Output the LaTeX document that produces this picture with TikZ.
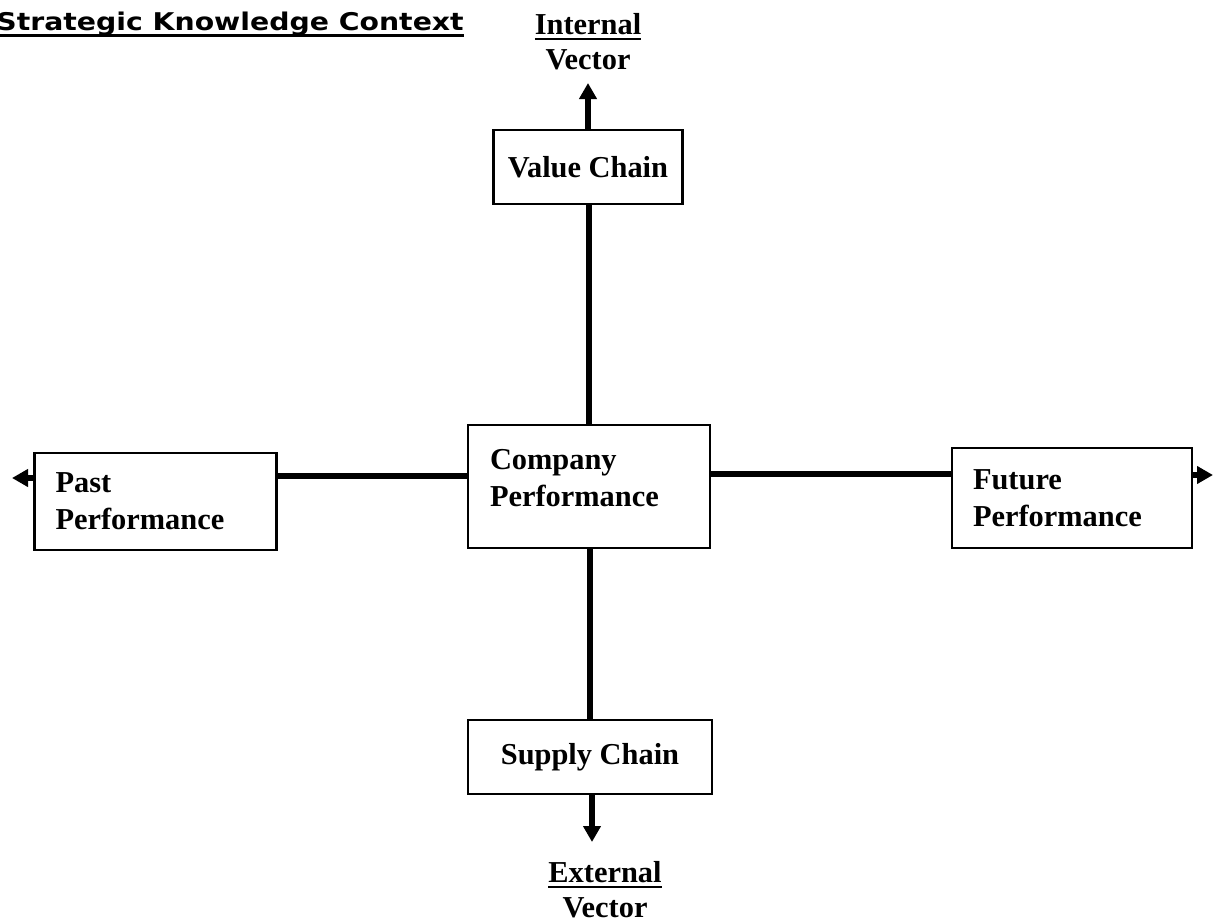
\documentclass[tikz,border=0pt]{standalone}
\usepackage{fontspec}
\setmainfont{Liberation Serif}
\newfontfamily\titlefont{DejaVu Sans}
\newcommand\myul[1]{\leavevmode\vtop{\hbox{#1}\kern1.2pt\hrule height 1pt}}
\usetikzlibrary{arrows.meta}
\tikzset{
  box/.style={draw, line width=1.3pt, inner sep=0pt, font=\bfseries\fontsize{15.2}{18.5}\selectfont},
  lbox/.style={box, align=left, inner xsep=10.5pt},
  conn/.style={line width=3pt},
  arr/.style={line width=3pt, -{Triangle[length=8pt,width=8.5pt]}},
  lbl/.style={font=\bfseries\fontsize{15.2}{17.5}\selectfont, align=center, inner sep=0pt}
}
\begin{document}
\begin{tikzpicture}[x=0.5pt,y=-0.5pt]
\useasboundingbox (0,0) rectangle (1216,921);
% title
\node[anchor=base west, inner sep=0pt, font=\titlefont\bfseries\fontsize{12.2}{14}\selectfont] (title) at (-4,31) {\scalebox{1.16}[1]{Strategic Knowledge Context}};
\draw[line width=1.5pt] ([yshift=-2pt]title.base west) -- ([yshift=-2pt]title.base east);
% boxes
\node[box, minimum width=94.5pt, minimum height=37pt, align=center] (value) at (588,167) {Value Chain};
\node[lbox, minimum width=121pt, minimum height=61.5pt, text width=99pt] (company) at (589,486.5) {Company\\Performance\\[-10pt]\mbox{}};
\node[lbox, minimum width=120.5pt, minimum height=48.5pt, text width=100pt] (past) at (155.5,501.5) {Past\\Performance};
\node[lbox, minimum width=120pt, minimum height=50pt, text width=99pt] (future) at (1072,498) {Future\\Performance};
\node[box, minimum width=122pt, minimum height=37pt, align=center] (supply) at (590,757) {Supply Chain};
% labels
\node[lbl] (internal) at (588,42) {\myul{Internal}\\Vector};
\node[lbl] (external) at (605,890) {\myul{External}\\Vector};
% coordinates
\coordinate (itop) at (588,83);
\coordinate (ebot) at (592,842);
\coordinate (pl) at (12,478);
\coordinate (fr) at (1213,475);
% connectors
\draw[arr] (value.north -| itop) -- (itop);
\draw[conn] (value.south -| 589,0) -- (company.north -| 589,0);
\draw[conn] (company.west |- 0,476) -- (past.east |- 0,476);
\draw[arr] (past.west |- pl) -- (pl);
\draw[conn] (company.east |- 0,474) -- (future.west |- 0,474);
\draw[arr] (future.east |- fr) -- (fr);
\draw[conn] (company.south -| 590,0) -- (supply.north -| 590,0);
\draw[arr] (supply.south -| ebot) -- (ebot);
\end{tikzpicture}
\end{document}
